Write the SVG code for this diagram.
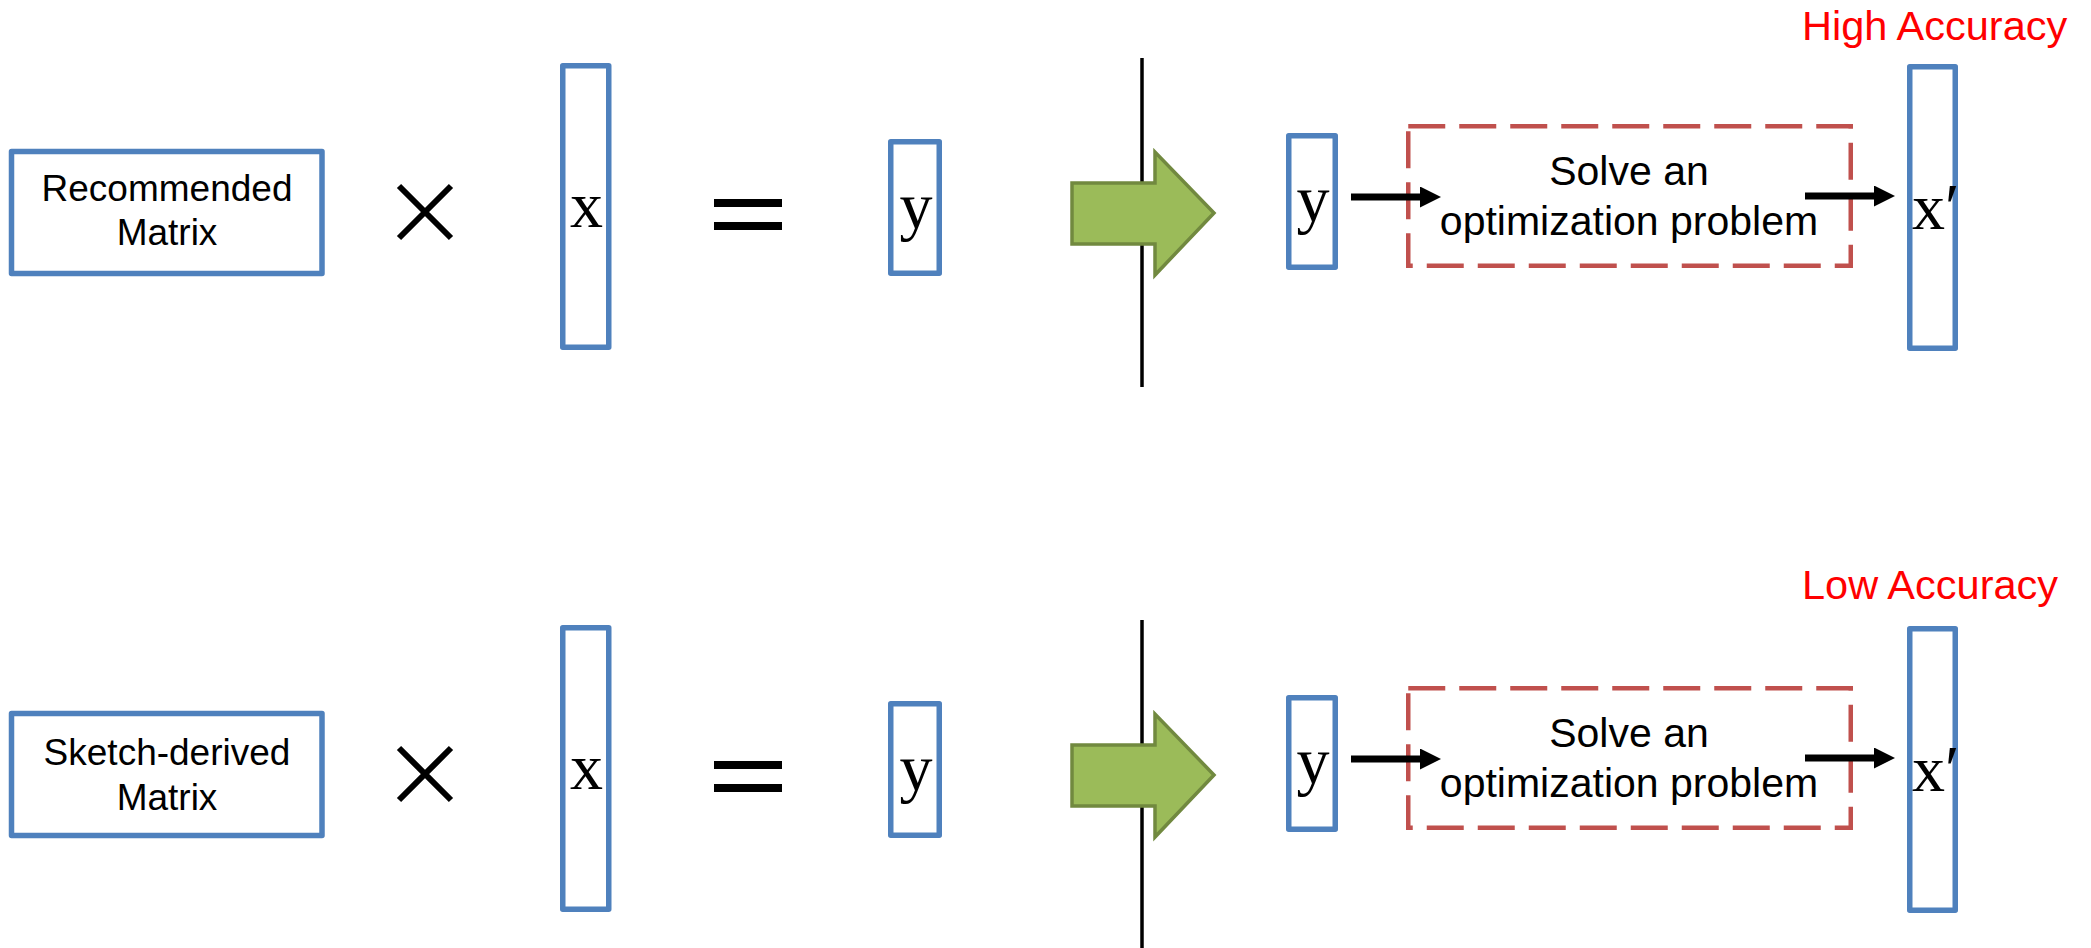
<svg xmlns="http://www.w3.org/2000/svg" width="2091" height="948" viewBox="0 0 2091 948">
<style>
.box{fill:#fff;stroke:#4f81bd;stroke-width:5.5;stroke-linejoin:round}
.dash{fill:none;stroke:#c0504d;stroke-width:4.5;stroke-dasharray:37 14}
.lbl{font-family:"Liberation Sans",Arial,sans-serif;font-size:37px;fill:#000;text-anchor:middle}
.opt{font-family:"Liberation Sans",Arial,sans-serif;font-size:41px;fill:#000;text-anchor:middle}
.var{font-family:"Liberation Serif","Times New Roman",serif;font-size:66px;fill:#000}
.acc{font-family:"Liberation Sans",Arial,sans-serif;font-size:41.5px;fill:#ff0000}
.op{stroke:#000;stroke-width:6;fill:none}
.vline{stroke:#000;stroke-width:3.5}
.big{fill:#9bbb59;stroke:#71893f;stroke-width:3.5;stroke-linejoin:miter}
.conn{stroke:#000;stroke-width:7;fill:none}
</style>
<defs>
<marker id="ah" markerUnits="strokeWidth" markerWidth="3" markerHeight="3" refX="0" refY="1.5" orient="auto">
<path d="M0,0 L3,1.5 L0,3 z" fill="#000"/>
</marker>
</defs>

<!-- Top row -->
<g id="rec-matrix">
<rect class="box" x="11.5" y="151.5" width="310.5" height="122"/>
<text class="lbl" x="167" y="201">Recommended</text>
<text class="lbl" x="167" y="245">Matrix</text>
</g>
<g id="times-top"><path class="op" d="M399,186 L451,238 M451,186 L399,238"/></g>
<g id="x-top">
<rect class="box" x="562.75" y="65.75" width="46" height="281.5"/>
<text class="var" x="586.5" y="227" text-anchor="middle">x</text>
</g>
<g id="eq-top"><rect x="714" y="199" width="68" height="8"/><rect x="714" y="222" width="68" height="8"/></g>
<g id="y-top">
<rect class="box" x="890.75" y="141.75" width="48.5" height="131.5"/>
<text class="var" x="916" y="228" text-anchor="middle">y</text>
</g>
<g id="divider-top"><line class="vline" x1="1142" y1="58" x2="1142" y2="387"/></g>
<g id="bigarrow-top"><polygon class="big" points="1072,183 1155,183 1155,152 1214,213 1155,275 1155,244 1072,244"/></g>
<g id="y2-top">
<rect class="box" x="1288.75" y="135.75" width="46.5" height="131.5"/>
<text class="var" x="1313" y="221" text-anchor="middle">y</text>
</g>
<g id="solve-top">
<rect class="dash" x="1408.25" y="126.25" width="442.5" height="139.5"/>
<text class="opt" x="1629" y="185">Solve an</text>
<text class="opt" x="1629" y="235">optimization problem</text>
</g>
<g id="xp-top">
<rect class="box" x="1909.75" y="66.75" width="45.5" height="281.5"/>
<text class="var" x="1912" y="229">x′</text>
</g>
<g id="acc-high"><text class="acc" x="1802" y="40">High Accuracy</text></g>

<!-- Bottom row -->
<g id="sketch-matrix">
<rect class="box" x="11.5" y="713.5" width="310.5" height="122"/>
<text class="lbl" x="167" y="765">Sketch-derived</text>
<text class="lbl" x="167" y="810">Matrix</text>
</g>
<g id="times-bot"><path class="op" d="M399,748 L451,800 M451,748 L399,800"/></g>
<g id="x-bot">
<rect class="box" x="562.75" y="627.75" width="46" height="281.5"/>
<text class="var" x="586.5" y="789" text-anchor="middle">x</text>
</g>
<g id="eq-bot"><rect x="714" y="761" width="68" height="8"/><rect x="714" y="784" width="68" height="8"/></g>
<g id="y-bot">
<rect class="box" x="890.75" y="703.75" width="48.5" height="131.5"/>
<text class="var" x="916" y="790" text-anchor="middle">y</text>
</g>
<g id="divider-bot"><line class="vline" x1="1142" y1="620" x2="1142" y2="948"/></g>
<g id="bigarrow-bot"><polygon class="big" points="1072,745 1155,745 1155,714 1214,775 1155,837 1155,806 1072,806"/></g>
<g id="y2-bot">
<rect class="box" x="1288.75" y="697.75" width="46.5" height="131.5"/>
<text class="var" x="1313" y="783" text-anchor="middle">y</text>
</g>
<g id="solve-bot">
<rect class="dash" x="1408.25" y="688.25" width="442.5" height="139.5"/>
<text class="opt" x="1629" y="747">Solve an</text>
<text class="opt" x="1629" y="797">optimization problem</text>
</g>
<g id="xp-bot">
<rect class="box" x="1909.75" y="628.75" width="45.5" height="281.5"/>
<text class="var" x="1912" y="791">x′</text>
</g>
<g id="acc-low"><text class="acc" x="1802" y="599">Low Accuracy</text></g>

<g id="connectors">
<line class="conn" x1="1351" y1="197" x2="1420" y2="197" marker-end="url(#ah)"/>
<line class="conn" x1="1805" y1="196" x2="1874" y2="196" marker-end="url(#ah)"/>
<line class="conn" x1="1351" y1="759" x2="1420" y2="759" marker-end="url(#ah)"/>
<line class="conn" x1="1805" y1="758" x2="1874" y2="758" marker-end="url(#ah)"/>
</g>
</svg>
